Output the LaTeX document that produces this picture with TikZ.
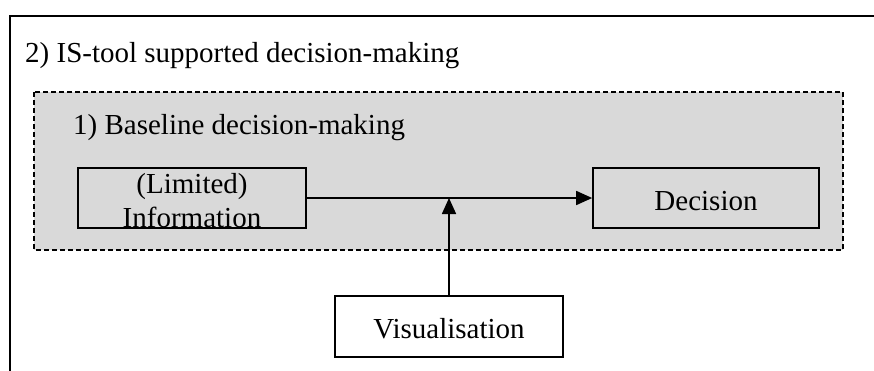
\documentclass[tikz,border=0pt]{standalone}
\usepackage{fontspec}
\setmainfont{Liberation Serif}
\usetikzlibrary{arrows.meta}
\definecolor{panelgray}{HTML}{D9D9D9}
\tikzset{
  txt/.style={inner sep=0pt, font=\fontsize{29}{34}\selectfont},
  stagebox/.style={draw, line width=1.7pt, rectangle, inner sep=0pt},
  arr/.style={line width=1.7pt, -{Triangle[length=16pt,width=14pt]}},
}
\begin{document}
\begin{tikzpicture}[x=1pt,y=-1pt]
\useasboundingbox (0,0) rectangle (874,370);
\begin{scope}
\clip (0,0) rectangle (874,370);
% outer frame of the IS-tool supported setting
\draw[line width=1.5pt] (10,16) rectangle (890,390);
\end{scope}
\node[txt, anchor=base west] (outerlbl) at (25,62) {2) IS-tool supported decision-making};

% baseline decision-making panel
\draw[fill=panelgray, line width=1.6pt, dash pattern=on 5pt off 3pt] (34,92) rectangle (843,250);
\node[txt, anchor=base west] (innerlbl) at (73,134) {1) Baseline decision-making};

% stages
\node[stagebox, fill=panelgray, minimum width=228pt, minimum height=60pt] (info) at (192,198) {};
\node[txt, anchor=base] (infoA) at (192,193) {(Limited)};
\node[txt, anchor=base] (infoB) at (192,227) {Information};

\node[stagebox, fill=panelgray, minimum width=226pt, minimum height=60pt] (dec) at (706,198) {};
\node[txt, anchor=base] (decT) at (706,210) {Decision};

\node[stagebox, fill=white, minimum width=228pt, minimum height=61pt] (vis) at (449,326.5) {};
\node[txt, anchor=base] (visT) at (449,338) {Visualisation};

% connectors
\coordinate (join) at (449,198);
\draw[arr] (info.east) -- (dec.west);
\draw[arr] (vis.north) -- (join);
\end{tikzpicture}
\end{document}
